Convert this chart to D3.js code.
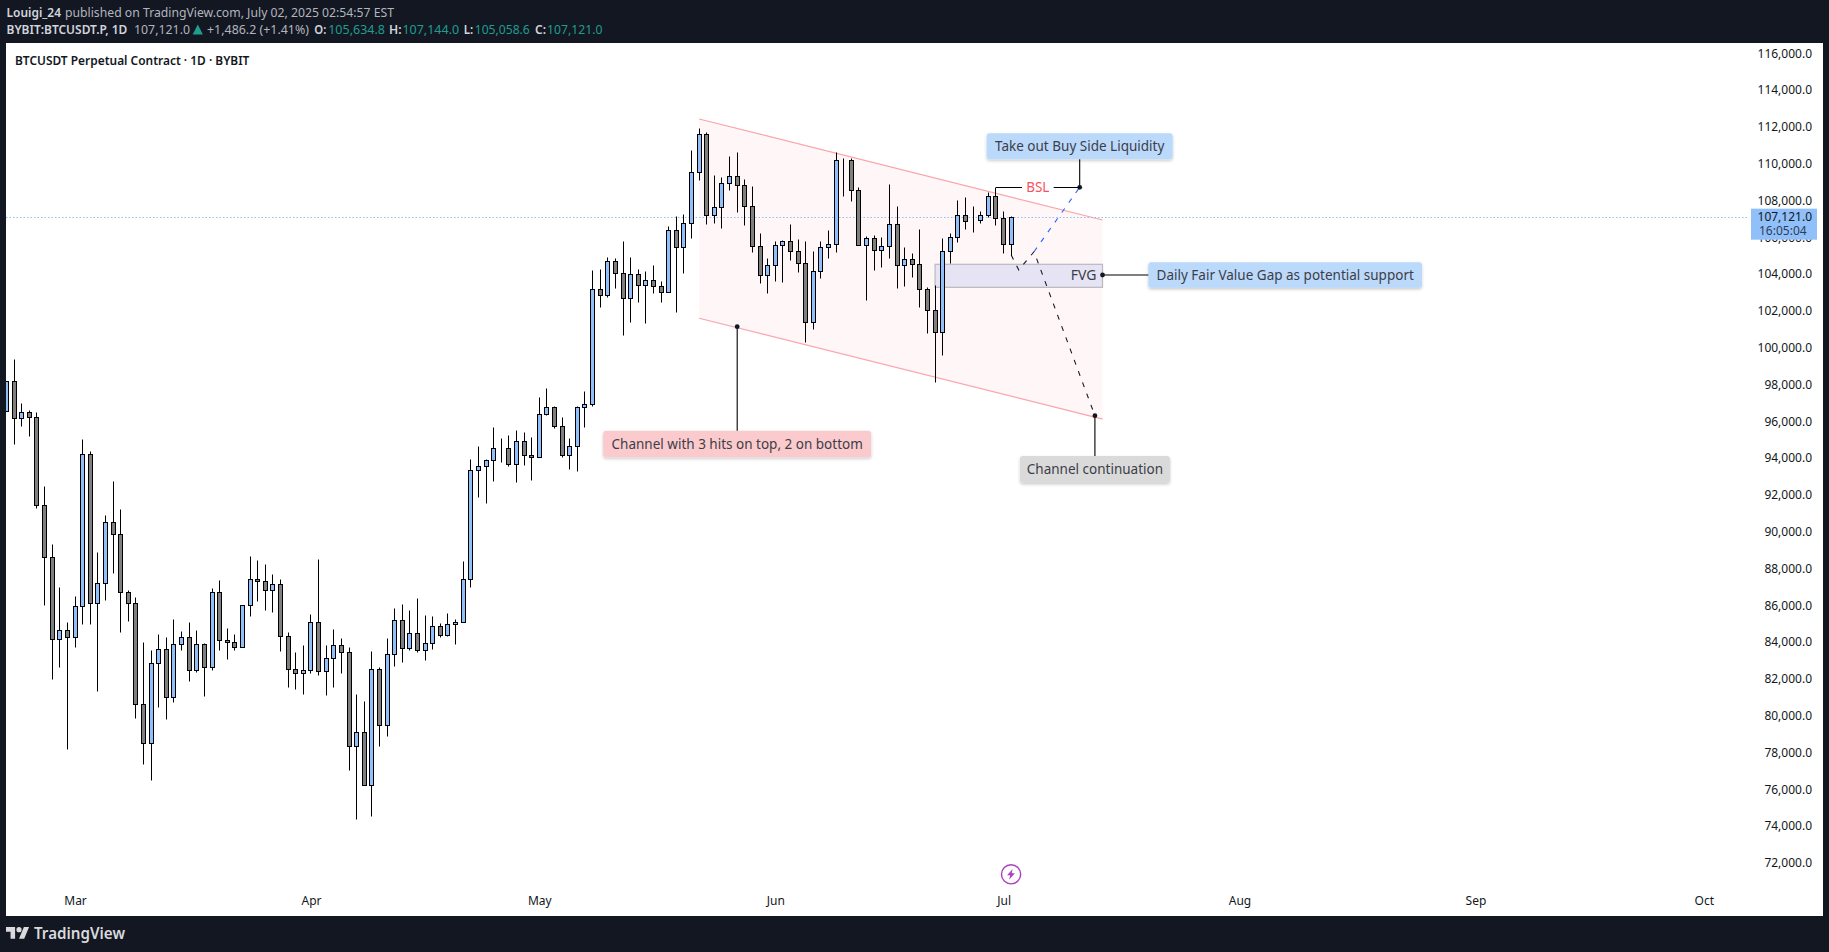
<!DOCTYPE html>
<html>
<head>
<meta charset="utf-8">
<style>
  html, body { margin: 0; padding: 0; background: #131722; overflow: hidden; }
  svg { display: block; }
  text { font-family: "Noto Sans", sans-serif; }
</style>
<script src="https://cdn.jsdelivr.net/npm/d3@7"></script>
</head>
<body>
<svg></svg>
<script>
// daily candles, first one is 20 Feb 2025
let firstDay = new Date(Date.UTC(2025, 1, 20));

let opens = [96540,98173,96162,96488,96217,91434,88608,84151,84640,84260,85945,94206,86108,87195,90510,89858,86705,86108,80618,78499,
  82847,83608,80999,83879,84260,82466,83879,82629,86705,84097,83988,83716,85999,87412,87303,86814,87140,84314,82520,82303,
  82466,85075,82412,83118,83825,83445,78336,79096,76216,82520,79477,83336,85184,83662,84477,83553,83934,84858,84368,84966,
  85075,87412,93336,93554,93880,94532,94532,93662,94912,94151,94043,96380,96760,95728,94151,94641,96760,96923,103174,102848,
  104695,104043,102684,103989,103391,103663,103337,103010,106380,105456,106761,109533,111598,107196,107630,108935,109315,108826,107685,105511,
  103934,104478,105565,105782,105239,104587,101380,104152,105456,105619,110239,110185,108554,105565,105945,105293,105511,106706,104478,104804,
  104532,103174,102032,100836,105239,106000,107196,106902,106924,107196,108228,107032,105634.8];
let highs = [98173,99385,96978,96614,96488,92483,89314,86977,85075,86488,95037,94369,88896,90890,92755,91233,86814,86434,83988,83553,
  84423,84260,85238,84586,85075,84640,83934,86923,87358,84749,84423,85999,88662,88445,88227,87684,87412,84531,83445,83825,
  85510,88499,83825,84695,84205,83716,81162,80781,83499,82629,84205,85836,86053,85727,86379,85456,85401,85021,85564,85238,
  88390,93934,94641,93934,95673,95075,95239,95510,95402,95130,97304,97793,96815,96217,95075,96815,97630,104206,104261,104913,
  104858,105782,104913,104261,104152,104478,103608,106614,107157,107250,110728,111924,111707,109370,109261,110402,110620,109152,108772,106217,
  104858,105782,105837,106706,105891,105782,105239,105782,106380,110620,110294,110294,108717,106054,106109,106000,108880,107685,105456,105130,
  106435,103299,103407,105945,106217,108011,108174,107685,107413,108446,108717,107413,107144];
let lows = [96540,94782,95760,95217,91271,86032,82010,82662,78205,83749,84999,84999,81358,86303,87771,84564,85162,79890,77390,76520,
  80488,79836,80760,83586,81901,82390,81086,82466,83586,83097,83586,83716,85434,86249,85760,85651,83531,81575,81466,81194,
  82336,82227,81140,81575,82336,77064,74401,76216,74531,78368,78912,82716,82934,83586,83477,83042,83640,84260,84314,83879,
  85075,87010,91901,91575,92771,93804,93554,92717,93641,92825,94043,96325,95652,94075,93423,93314,95706,96815,102228,102739,
  103228,100673,101380,102500,101326,102989,102500,103010,101956,104076,105945,109130,106739,106793,106522,108587,107391,106685,105217,103532,
  102989,103641,103586,104782,104130,100326,101032,103804,104875,105217,108261,107989,105565,102608,104239,104402,104891,103261,103369,103858,
  102228,100782,98119,99586,104587,105728,106435,106272,106761,107087,106652,105130,105058.6];
let closes = [98173,96162,96488,96217,91434,88608,84151,84640,84260,85945,94206,86108,87195,90510,89858,86705,86108,80618,78499,82847,
  83608,80999,83879,84260,82466,83879,82629,86705,84097,83988,83716,85999,87412,87303,86814,87140,84314,82520,82303,82466,
  85075,82412,83118,83825,83445,78336,79096,76216,82520,79477,83336,85184,83662,84477,83553,83934,84858,84368,84966,85075,
  87412,93336,93554,93880,94532,94532,93662,94912,94151,94043,96380,96760,95728,94151,94641,96760,96923,103174,102848,104695,
  104043,102684,103989,103391,103663,103337,103010,106380,105456,106761,109533,111598,107196,107630,108935,109315,108826,107685,105511,103934,
  104478,105565,105782,105239,104587,101380,104152,105456,105619,110185,110239,108554,105565,105945,105293,105511,106706,104478,104804,104532,
  103174,102032,100836,105239,106000,107196,106869,106902,107196,108228,107032,105634.8,107121];

let lastPrice = 107121;
let priceTicks = d3.range(72000, 116001, 2000);
let monthTicks = ["2025-03-01","2025-04-01","2025-05-01","2025-06-01","2025-07-01","2025-08-01","2025-09-01","2025-10-01"];

// drawings, as [days after firstDay, price]
let channel = [[91,112430],[144,106940],[144,96120],[91,101600]];
let fvgZone = [[122,104532],[144,103282]];
let blackPath = [[132,105038],[133,104223],[135,105217],[143,96304]];
let bluePath = [[135,105217],[141,108717]];
let bslLeg = [[130,108717],[141,108717]];

let width = 1829;
let height = 952;
let plot = { left: 6, right: 1823, top: 43, bottom: 916 };

let svg = d3.select("svg");
let xScale;
let yScale;

let darkText = "#3b3e48";
let candleBlue = "#90bff9";
let candleGray = "#7f7f7f";

function drawCanvas() {
  svg.attr("width", width).attr("height", height);
  svg.append("rect").attr("width", width).attr("height", height).attr("fill", "#131722");
  svg.append("rect")
    .attr("x", plot.left).attr("y", plot.top)
    .attr("width", plot.right - plot.left).attr("height", plot.bottom - plot.top)
    .attr("fill", "#ffffff");

  let defs = svg.append("defs");
  defs.append("clipPath").attr("id", "plot-clip").append("rect")
    .attr("x", plot.left).attr("y", plot.top)
    .attr("width", plot.right - plot.left).attr("height", plot.bottom - plot.top);
  defs.append("filter").attr("id", "box-shadow")
    .attr("x", "-10%").attr("y", "-30%").attr("width", "120%").attr("height", "170%")
    .append("feDropShadow")
    .attr("dx", 0).attr("dy", 1.5).attr("stdDeviation", 1.5)
    .attr("flood-color", "#000").attr("flood-opacity", 0.22);
}

function generateScales() {
  let dayWidth = 7.611;
  let lastTick = new Date(Date.UTC(2025, 9, 1));
  xScale = d3.scaleUtc()
    .domain([firstDay, lastTick])
    .range([6.54, 6.54 + d3.utcDay.count(firstDay, lastTick) * dayWidth]);
  yScale = d3.scaleLinear().domain([72000, 116000]).range([862.9, 53.3]);
}

// x for a (maybe fractional) number of days after the first candle
function dayX(n) {
  return xScale(new Date(+firstDay + n * 864e5));
}

function drawAxes() {
  let yAxis = d3.axisRight(yScale)
    .tickValues(priceTicks)
    .tickSize(0)
    .tickFormat(d3.format(",.1f"));
  let yGroup = svg.append("g").attr("id", "y-axis").attr("transform", "translate(1812, 0)").call(yAxis);
  yGroup.select(".domain").remove();
  yGroup.selectAll("text")
    .attr("x", 0).attr("text-anchor", "end")
    .style("font-size", "12px").style("font-family", '"Noto Sans", sans-serif')
    .attr("fill", "#131722");

  let xAxis = d3.axisBottom(xScale)
    .tickValues(monthTicks.map((d) => new Date(d + "T00:00:00Z")))
    .tickSize(0)
    .tickFormat(d3.utcFormat("%b"));
  let xGroup = svg.append("g").attr("id", "x-axis").attr("transform", "translate(0, 896)").call(xAxis);
  xGroup.select(".domain").remove();
  xGroup.selectAll("text")
    .attr("y", 0).attr("dy", "0.71em")
    .style("font-size", "12px").style("font-family", '"Noto Sans", sans-serif')
    .attr("fill", "#131722");
}

function drawChannel() {
  let g = svg.append("g").attr("clip-path", "url(#plot-clip)");
  let pts = channel.map((d) => [dayX(d[0]), yScale(d[1])]);
  g.append("polygon")
    .attr("points", pts.join(" "))
    .attr("fill", "#f7525f").attr("fill-opacity", 0.05);
  [[pts[0], pts[1]], [pts[3], pts[2]]].forEach((seg) => {
    g.append("line")
      .attr("x1", seg[0][0]).attr("y1", seg[0][1])
      .attr("x2", seg[1][0]).attr("y2", seg[1][1])
      .attr("stroke", "#f9a5aa").attr("stroke-width", 1.2);
  });

  // current price line
  g.append("line")
    .attr("x1", plot.left).attr("x2", 1748)
    .attr("y1", Math.round(yScale(lastPrice)) + 0.5).attr("y2", Math.round(yScale(lastPrice)) + 0.5)
    .attr("stroke", candleBlue).attr("stroke-dasharray", "1.5 2");
}

function drawCandles() {
  let g = svg.append("g").attr("id", "candles").attr("clip-path", "url(#plot-clip)");
  let cx = (i) => Math.floor(dayX(i)) + 0.5;
  let crisp = (v) => Math.round(yScale(v)) + 0.5;

  g.selectAll("line")
    .data(opens)
    .enter()
    .append("line")
    .attr("x1", (d, i) => cx(i)).attr("x2", (d, i) => cx(i))
    .attr("y1", (d, i) => crisp(highs[i]))
    .attr("y2", (d, i) => crisp(lows[i]))
    .attr("stroke", "#000");

  g.selectAll("rect")
    .data(opens)
    .enter()
    .append("rect")
    .attr("class", "candle")
    .attr("x", (d, i) => cx(i) - 2)
    .attr("y", (d, i) => crisp(Math.max(d, closes[i])))
    .attr("width", 4)
    .attr("height", (d, i) => crisp(Math.min(d, closes[i])) - crisp(Math.max(d, closes[i])))
    .attr("fill", (d, i) => (closes[i] >= d ? candleBlue : candleGray))
    .attr("stroke", "#000");
}

function drawFvg() {
  let x0 = dayX(fvgZone[0][0]);
  let x1 = dayX(fvgZone[1][0]);
  let y0 = yScale(fvgZone[0][1]);
  let y1 = yScale(fvgZone[1][1]);
  svg.append("rect")
    .attr("x", x0).attr("y", y0)
    .attr("width", x1 - x0).attr("height", y1 - y0)
    .attr("fill", "#e5e3f4")
    .attr("stroke", "#bab8bd").attr("stroke-width", 1.2);
  svg.append("text")
    .attr("x", x1 - 6).attr("y", yScale(103951))
    .attr("dy", "0.36em").attr("text-anchor", "end")
    .attr("font-size", 14).attr("fill", darkText)
    .text("FVG");
}

function drawPaths() {
  let line = d3.line().x((d) => dayX(d[0])).y((d) => yScale(d[1]));
  svg.append("path").attr("d", line(blackPath))
    .attr("fill", "none").attr("stroke", "#131722").attr("stroke-width", 1.1).attr("stroke-dasharray", "5 7");
  svg.append("path").attr("d", line(bluePath))
    .attr("fill", "none").attr("stroke", "#2962ff").attr("stroke-width", 1.1).attr("stroke-dasharray", "5 7");
}

// callout box with a leader line from an anchor dot
function callout(text, day, price, boxW, boxH, fill, anchor) {
  let cx = dayX(day);
  let cy = yScale(price);
  if (anchor) {
    let ax = dayX(anchor[0]);
    let ay = yScale(anchor[1]);
    svg.append("line")
      .attr("x1", ax).attr("y1", ay)
      .attr("x2", anchor[2] === "h" ? cx : ax).attr("y2", anchor[2] === "h" ? ay : cy)
      .attr("stroke", "#000").attr("stroke-width", 1.1);
    svg.append("circle").attr("cx", ax).attr("cy", ay).attr("r", 2.4).attr("fill", "#131722");
  }
  svg.append("rect")
    .attr("x", cx - boxW / 2).attr("y", cy - boxH / 2)
    .attr("width", boxW).attr("height", boxH).attr("rx", 3)
    .attr("fill", fill).attr("filter", "url(#box-shadow)");
  svg.append("text")
    .attr("x", cx).attr("y", cy).attr("dy", "0.36em")
    .attr("text-anchor", "middle").attr("font-size", 13.5).attr("fill", darkText)
    .text(text);
}

function drawCallouts() {
  callout("Channel with 3 hits on top, 2 on bottom", 96, 94766, 268, 26.3, "#fbcacd", [96, 101141]);
  callout("Take out Buy Side Liquidity", 141, 110946, 186, 26, "#bbd9fb", [141, 108717]);
  callout("Daily Fair Value Gap as potential support", 168, 103951, 273.7, 25.4, "#bbd9fb", [144, 103951, "h"]);
  callout("Channel continuation", 143, 93390, 150, 26.7, "#dadada", [143, 96304]);

  // BSL leg with the label sitting in a gap
  let y = Math.round(yScale(bslLeg[0][1])) + 0.5;
  let x0 = dayX(bslLeg[0][0]);
  let x1 = dayX(bslLeg[1][0]);
  svg.append("line").attr("x1", x0).attr("x2", x0 + 26).attr("y1", y).attr("y2", y).attr("stroke", "#000");
  svg.append("line").attr("x1", x1 - 26).attr("x2", x1).attr("y1", y).attr("y2", y).attr("stroke", "#000");
  svg.append("text")
    .attr("x", (x0 + x1) / 2).attr("y", y).attr("dy", "0.36em")
    .attr("text-anchor", "middle").attr("font-size", 13.5).attr("fill", "#f7525f")
    .text("BSL");
}

function drawPriceLabel() {
  let y = yScale(lastPrice);
  svg.append("rect")
    .attr("x", 1751).attr("y", y - 8)
    .attr("width", 66).attr("height", 31)
    .attr("fill", candleBlue);
  svg.append("text").attr("x", 1812).attr("y", y).attr("dy", "0.36em")
    .attr("text-anchor", "end").attr("font-size", 12).attr("fill", "#131722")
    .text(d3.format(",.1f")(lastPrice));
  svg.append("text").attr("x", 1759).attr("y", y + 14).attr("dy", "0.36em")
    .attr("font-size", 12).attr("fill", "#2f3d57")
    .text("16:05:04");
}

function fitText(x, y, w, text, color, weight) {
  svg.append("text")
    .attr("x", x).attr("y", y).attr("dy", "0.36em")
    .attr("font-size", 13).attr("fill", color)
    .attr("font-weight", weight || 400)
    .attr("textLength", w).attr("lengthAdjust", "spacingAndGlyphs")
    .text(text);
}

function drawHeader() {
  let gray = "#b2b5be";
  let white = "#d1d4dc";
  let green = "#1f9d8f";
  fitText(6.5, 12.5, 54.5, "Louigi_24", white, 600);
  fitText(65, 12.5, 329, "published on TradingView.com, July 02, 2025 02:54:57 EST", gray);
  fitText(6.5, 29.5, 120.8, "BYBIT:BTCUSDT.P, 1D", white, 600);
  fitText(134, 29.5, 56, "107,121.0", gray);
  svg.append("path").attr("d", "M192.7 34.5L197.8 24.5L202.9 34.5Z").attr("fill", green);
  fitText(207, 29.5, 102, "+1,486.2 (+1.41%)", gray);
  fitText(314.3, 29.5, 12, "O:", white, 600);
  fitText(328.2, 29.5, 56.8, "105,634.8", green);
  fitText(389, 29.5, 12.5, "H:", white, 600);
  fitText(402.4, 29.5, 56.8, "107,144.0", green);
  fitText(463.7, 29.5, 9.5, "L:", white, 600);
  fitText(474.7, 29.5, 55.1, "105,058.6", green);
  fitText(535, 29.5, 11, "C:", white, 600);
  fitText(547, 29.5, 55.4, "107,121.0", green);

  svg.append("text")
    .attr("x", 15).attr("y", 60.5).attr("dy", "0.36em")
    .attr("font-size", 13).attr("font-weight", 600).attr("fill", "#131722")
    .attr("textLength", 234.4).attr("lengthAdjust", "spacingAndGlyphs")
    .text("BTCUSDT Perpetual Contract · 1D · BYBIT");
}

function drawFooter() {
  let logo = svg.append("g").attr("transform", "translate(6, 924.5) scale(0.65)").attr("fill", "#d9dadd");
  logo.append("path").attr("d", "M14 22H7V11H0V4h14v18zM28 22h-8l7.5-18h8L28 22z");
  logo.append("circle").attr("cx", 20).attr("cy", 8).attr("r", 4);
  svg.append("text")
    .attr("x", 34).attr("y", 933).attr("dy", "0.36em")
    .attr("font-size", 16).attr("font-weight", 600).attr("fill", "#d9dadd")
    .attr("textLength", 91).attr("lengthAdjust", "spacingAndGlyphs")
    .text("TradingView");

  // lightning marker above the Jul label
  let bolt = svg.append("g").attr("transform", `translate(${dayX(131) + 7.5}, 874.3)`);
  bolt.append("circle").attr("r", 9.6).attr("fill", "#fff").attr("stroke", "#ab3fc0").attr("stroke-width", 1.4);
  bolt.append("path").attr("d", "M1.6 -5.4L-4 1H-0.8L-2 5.4L3.8 -1H0.6Z").attr("fill", "#ab3fc0");
}

drawCanvas();
generateScales();
drawChannel();
drawFvg();
drawPaths();
drawAxes();
drawCandles();
drawCallouts();
drawPriceLabel();
drawHeader();
drawFooter();
</script>
</body>
</html>
